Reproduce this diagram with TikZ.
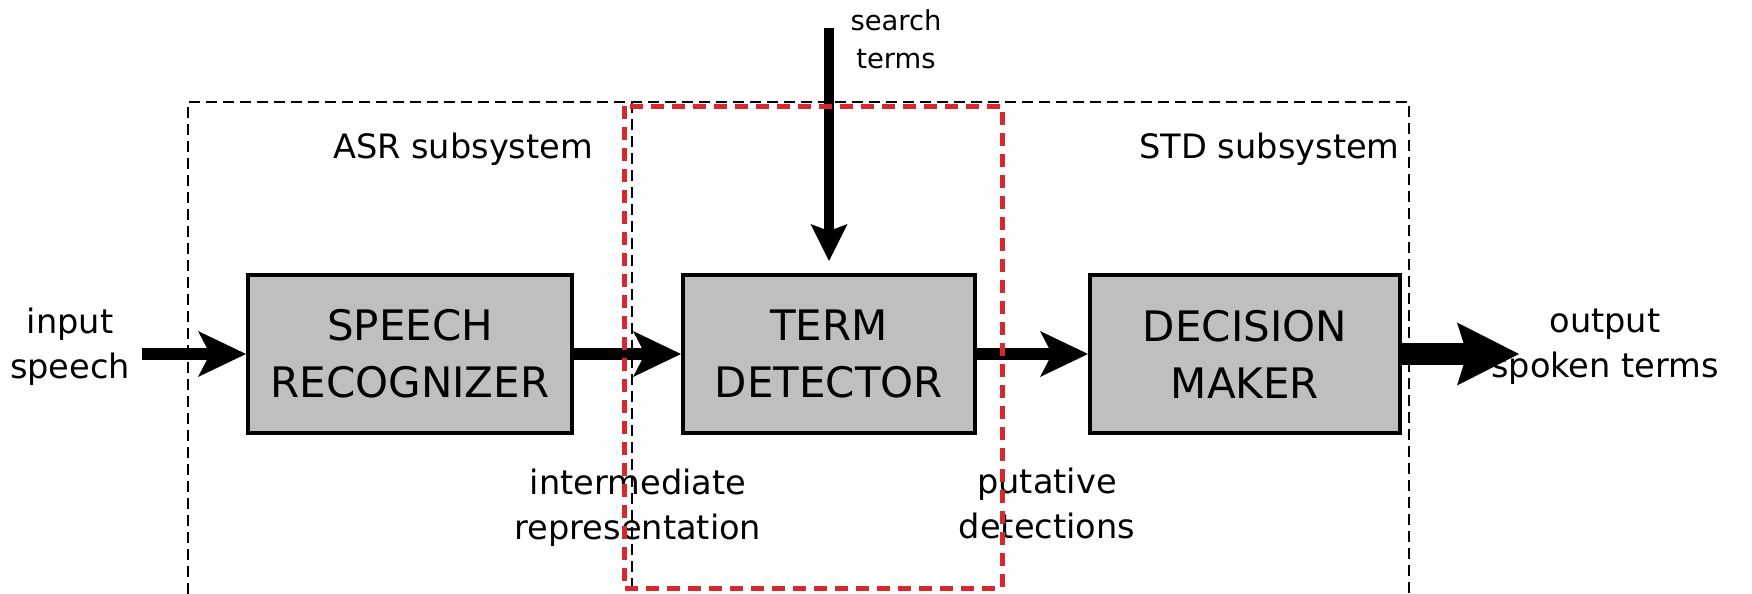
\documentclass[tikz,border=0pt]{standalone}
\usepackage{fontspec}
\setmainfont{DejaVu Sans}
\usetikzlibrary{arrows.meta}
\definecolor{hilite}{RGB}{214,40,45}
\definecolor{boxgray}{RGB}{191,191,191}
\begin{document}
\begin{tikzpicture}[x=0.5pt,y=-0.5pt,
  block/.style={draw=black, line width=2pt, fill=boxgray, minimum width=#1,
    minimum height=79pt, inner sep=0pt, align=center,
    font=\fontsize{21}{28.5}\selectfont},
  caption/.style={align=center, inner sep=0pt, font=\fontsize{16.8}{22.5}\selectfont},
  smallcaption/.style={align=center, inner sep=0pt, font=\fontsize{13.7}{19}\selectfont},
  flow/.style={line width=6pt,
    -{Stealth[length=24pt,width=23pt,inset=6pt,line width=0pt]}},
  bigflow/.style={line width=11pt,
    -{Stealth[length=31pt,width=31.5pt,inset=5pt,line width=0pt]}},
  inflow/.style={line width=5pt,
    -{Stealth[length=18.5pt,width=18.5pt,inset=3.5pt,line width=0pt]}},
  subsys/.style={line width=0.75pt, dash pattern=on 5.5pt off 3pt},
  focus/.style={draw=hilite, line width=2.5pt, dash pattern=on 6.5pt off 4pt}
]
\useasboundingbox (0,0) rectangle (1752,594);

% subsystem frames (open at the bottom)
\coordinate (asrBL) at (188,594);
\coordinate (asrTL) at (188,102);
\coordinate (midT) at (632,102);
\coordinate (midB) at (632,594);
\coordinate (stdTR) at (1409,102);
\coordinate (stdBR) at (1409,594);
\draw[subsys] (asrBL) -- (asrTL) -- (midT) -- (stdTR) -- (stdBR);
\draw[subsys] (midT) -- (midB);

\node[caption] (asr) at (463,149) {ASR subsystem};
\node[caption, anchor=east] (std) at (1400,149) {STD subsystem};

% processing blocks
\node[block=162pt] (sr) at (410,354) {SPEECH\\RECOGNIZER};
\node[block=146pt] (td) at (829,354) {TERM\\DETECTOR};
\node[block=155pt] (dm) at (1245,354) {DECISION\\MAKER};

% free ends of the outer connectors
\coordinate (inStart) at (142,354);
\coordinate (outTip) at (1519,354);
\coordinate (stStart) at (829,28);

% texts
\node[caption] (inTxt) at (70,347) {input\\speech};
\node[caption] (outTxt) at (1605,347) {output\\spoken terms};
\node[caption] (imTxt) at (638,508) {intermediate\\representation};
\node[caption] (pdTxt) at (1047,503) {putative\\detections};
\node[smallcaption] (stTxt) at (896,39) {search\\terms};

% connectors
\draw[flow] (inStart) -- (sr.west);
\draw[flow] (sr.east) -- (td.west);
\draw[flow] (td.east) -- (dm.west);
\draw[bigflow] (dm.east) -- (outTip);
\draw[inflow, shorten >=6pt] (stStart) -- (td.north);

% highlighted region around the term detector
\draw[focus] (624,106) rectangle (1002,588);
\end{tikzpicture}
\end{document}
